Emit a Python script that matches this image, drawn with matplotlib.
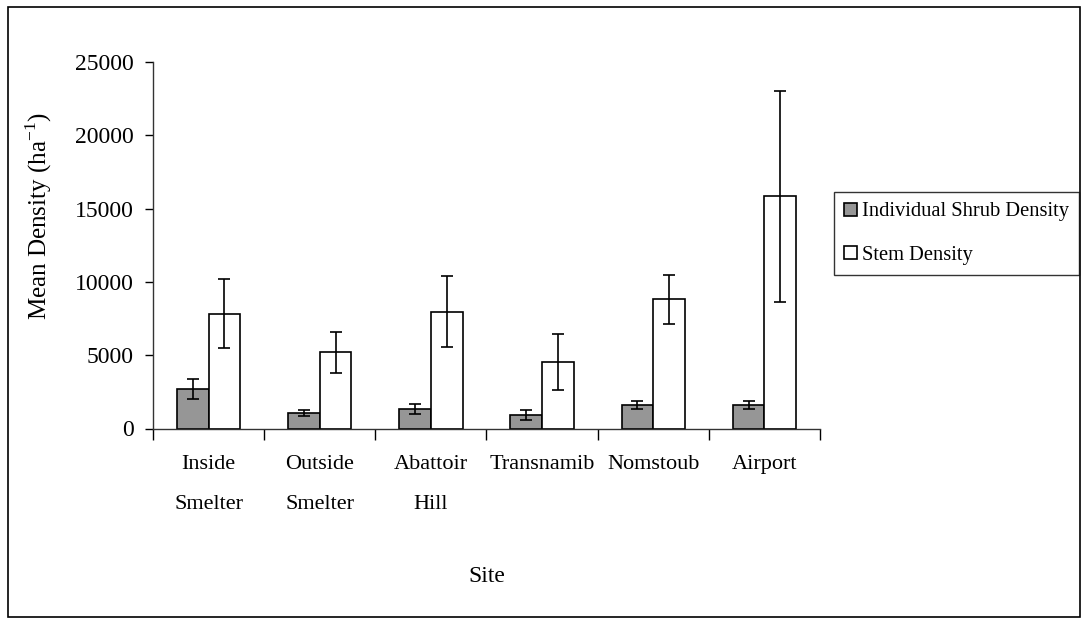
import numpy as np
import matplotlib
matplotlib.use("Agg")
import matplotlib.pyplot as plt
from matplotlib.patches import Rectangle

plt.rcParams['font.family'] = ['Liberation Serif', 'DejaVu Serif']
plt.rcParams['mathtext.fontset'] = 'custom'
plt.rcParams['mathtext.rm'] = 'Liberation Serif'

sites = ['Inside\nSmelter', 'Outside\nSmelter', 'Abattoir\nHill', 'Transnamib', 'Nomstoub', 'Airport']
shrub = [2680, 1060, 1320, 920, 1590, 1590]
shrub_err = [680, 200, 330, 330, 270, 270]
stem = [7840, 5190, 7980, 4530, 8800, 15850]
stem_err = [2350, 1390, 2450, 1900, 1650, 7200]

fig = plt.figure(figsize=(10.87, 6.24), dpi=100)
# outer frame round the whole chart
fig.patches.append(Rectangle((8/1087, 7/624), 1072/1087, 610/624, transform=fig.transFigure,
                             fill=False, edgecolor='black', linewidth=1.2))

ax = fig.add_axes([153/1087, 1 - 428.5/624, 667/1087, 366.5/624])
x = np.arange(len(sites))
w = 0.285
ax.bar(x - w/2, shrub, w, color='#969696', edgecolor='black', linewidth=1.2,
       yerr=shrub_err, capsize=4, error_kw=dict(elinewidth=1.2, capthick=1.2, ecolor='black'),
       label='Individual Shrub Density')
ax.bar(x + w/2, stem, w, color='white', edgecolor='black', linewidth=1.2,
       yerr=stem_err, capsize=4, error_kw=dict(elinewidth=1.2, capthick=1.2, ecolor='black'),
       label='Stem Density')

ax.set_xlim(-0.5, len(sites) - 0.5)
ax.set_ylim(0, 25000)
ax.set_yticks(np.arange(0, 25001, 5000))
ax.set_xticks(np.arange(-0.5, len(sites), 1.0))
ax.set_xticklabels([])
ax.tick_params(axis='x', direction='out', length=8, width=1)
ax.tick_params(axis='y', direction='out', length=6, width=1, labelsize=17, pad=8)
for i, s in enumerate(sites):
    ax.text(i, -1800, s, ha='center', va='top', fontsize=16, linespacing=2.5)
for sp in ['top', 'right']:
    ax.spines[sp].set_visible(False)
for sp in ['left', 'bottom']:
    ax.spines[sp].set_linewidth(1)
    ax.spines[sp].set_color('#333333')

ax.set_ylabel('Mean Density (ha$^{\\mathregular{-1}}$)', fontsize=18)
ax.yaxis.set_label_coords(-0.148, 0.58)
fig.text(487/1087, 1 - 577/624, 'Site', ha='center', va='center', fontsize=17)

leg = fig.legend(loc='upper left', bbox_to_anchor=(834/1087, 1 - 192/624), fontsize=14.8,
                 frameon=True, fancybox=False, edgecolor='black', handlelength=0.6,
                 handleheight=0.6, handletextpad=0.25, borderpad=0.5, labelspacing=1.2,
                 borderaxespad=0)
leg.get_frame().set_linewidth(1)

fig.savefig('out.png', dpi=100)
